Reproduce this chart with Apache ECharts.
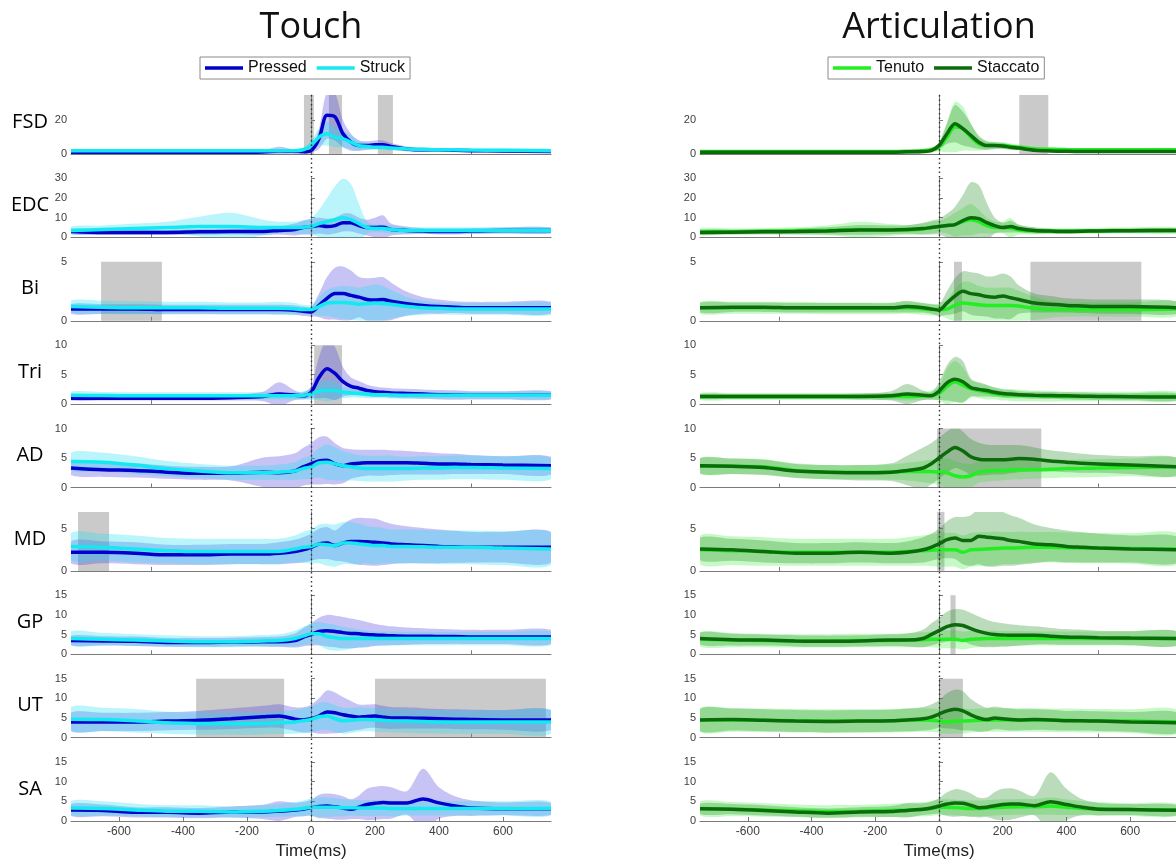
<!DOCTYPE html>
<html><head><meta charset="utf-8">
<script src="https://cdn.jsdelivr.net/npm/echarts@6/dist/echarts.min.js"></script>
<style>html,body{margin:0;padding:0;background:#fff}#c{width:1176px;height:861px}</style>
</head><body><div id="c"></div>
<script>
// ---- time base (ms) ----
const times = [-750,-650,-550,-450,-350,-250,-150,-100,-50,-25,0,25,50,75,100,125,150,175,200,225,250,300,350,400,450,500,600,750];
const muscles = ['FSD','EDC','Bi','Tri','AD','MD','GP','UT','SA'];
const yMax = [35,30,5,10,10,7,15,15,15];
const yTicks = [[0,20],[0,10,20,30],[0,5],[0,5,10],[0,5,10],[0,5],[0,5,10,15],[0,5,10,15],[0,5,10,15]];
const xTickLabels = [-600,-400,-200,0,200,400,600];
const xTicksUpper = [-500,0,500];
const onsetTime = 0;

// ---- Touch: Pressed ----
const pressed_FSD = [1,1,1,1,1,1,1.2, 1.8,1.5,1.3,2,9,23,22, 12,7,5,5,5.5,5.5,4.5, 3,2.5,2.5,2.2,2,1.8,1.5];
const pressed_FSD_sd = [0.6,0.6,0.6,0.6,0.6,0.6,1, 2.5,1,0.8,1.2,6,14,14, 8,5,3,2.5,2.5,2.5,2, 1.5,1.2,1,1,1,0.8,0.8];
const pressed_EDC = [3,2.5,2.5,2.5,2.8,3,3, 3.5,4,5,5.5,6,5.5,6, 7.5,7.5,6,5,5,5.2,4, 3.5,3.2,3,3,3.2,3.5,3.5];
const pressed_EDC_sd = [1.3,1.3,1.3,1.3,1.5,1.5,1.8, 2,3,3.5,4,4,4,4, 4.5,4.5,4,4,5,6,3, 2,1.5,1.5,1.5,1.5,1.5,1.5];
const pressed_Bi = [1,1,1,0.95,0.95,0.95,0.95, 0.95,0.9,0.8,0.75,1.3,1.9,2.3, 2.3,2.15,2,1.8,1.75,1.8,1.65, 1.45,1.3,1.2,1.15,1.1,1.1,1.1];
const pressed_Bi_sd = [0.4,0.4,0.4,0.4,0.4,0.4,0.4, 0.4,0.4,0.4,0.4,1,1.8,2.2, 2.3,2.1,1.7,1.8,1.9,1.9,1.6, 1,0.7,0.6,0.5,0.5,0.5,0.5];
const pressed_Tri = [1,1,1,1,1,1.1,1.3, 1.7,1.5,1.4,2,4.5,6,5.2, 3.8,3,2.7,2.3,2.1,2,1.9, 1.8,1.7,1.6,1.55,1.5,1.5,1.5];
const pressed_Tri_sd = [0.4,0.4,0.4,0.4,0.4,0.5,0.8, 2,0.8,0.6,1,3.5,5,4.5, 2.5,1.5,1.2,1,0.9,0.8,0.8, 0.8,0.8,0.8,0.8,0.7,0.7,0.7];
const pressed_AD = [3.3,3,2.9,2.6,2.4,2.4,2.6, 2.5,2.8,3.5,4,4.5,4.6,4, 3.7,4,4.1,4.2,4.2,4.2,4.2, 4.2,4.1,4,4,3.9,3.8,3.7];
const pressed_AD_sd = [1.2,1.2,1.2,1.1,1.1,1.2,2.5, 2.8,3,3.2,3.5,4,4,3.5, 3,2.5,2.3,2.2,2.2,2.2,2.1, 2,1.9,1.8,1.7,1.6,1.5,1.5];
const pressed_MD = [2.2,2.2,2.1,1.9,1.9,2,2, 2.1,2.3,2.5,2.8,3.2,3.3,3, 3.3,3.5,3.5,3.45,3.4,3.3,3.2, 3.1,3,2.9,2.85,2.8,2.8,2.8];
const pressed_MD_sd = [1.3,1.3,1.3,1.2,1.2,1.2,1.2, 1.3,1.4,1.5,1.6,1.8,1.9,1.8, 2.2,2.6,2.8,2.8,2.8,2.6,2.4, 2.2,2.1,2,1.9,1.8,1.8,1.8];
const pressed_GP = [3.5,3.4,3.3,3,3,3.1,3.2, 3.2,3.5,4.3,5,5.8,6,5.8, 5.5,5.3,5.2,5,4.9,4.8,4.7, 4.6,4.6,4.5,4.5,4.4,4.4,4.4];
const pressed_GP_sd = [1.2,1.2,1.2,1.1,1.1,1.1,1.2, 1.3,1.8,2.3,2.8,3.5,4,4, 4,3.8,3.5,3.2,2.8,2.6,2.4, 2.2,2,1.9,1.8,1.8,1.8,1.8];
const pressed_UT = [4,4,4,4.2,4.4,4.8,5.3, 5.5,4.7,4.5,4.8,5.5,6.5,6.3, 5.8,5.5,5.2,5.4,5.5,5.2,5, 5,4.9,4.8,4.7,4.6,4.5,4.5];
const pressed_UT_sd = [2.3,2.3,2.3,2.3,2.4,2.6,2.8, 3,3,3.2,3.5,4.5,5.5,5.2, 4.5,3.8,3.2,3,3,2.9,2.8, 2.7,2.6,2.5,2.5,2.5,2.5,2.5];
const pressed_SA = [2.8,2.7,2.2,2.2,2,2.3,2.3, 2.5,2.8,3,3.4,3.7,3.8,3.6, 3.3,3,3.5,4.2,4.5,4.7,4.6, 4.6,5.6,4.6,3.8,3.3,3.1,3.1];
const pressed_SA_sd = [1.5,1.5,1.3,1.3,1.3,1.4,1.8, 2.5,1.8,1.8,2,3,3.2,3.2, 3,2.5,3,4,4.2,4.2,4, 3,7.7,4,2.5,2,1.6,1.5];

// ---- Touch: Struck ----
const struck_FSD = [2,2,2,2,2,2,2, 2,2,2.5,5,10,12,10, 9,7,5,4.5,4,4,3.5, 3,2.8,2.5,2.5,2.3,2.2,2];
const struck_FSD_sd = [0.8,0.8,0.8,0.8,0.8,0.8,0.8, 0.8,0.8,1,3,5,7,6, 5,4,3,2,1.5,1.5,1.3, 1,1,1,1,1,1,1];
const struck_EDC = [3.5,4,4.5,5,5.5,5.5,5, 5,5,5.2,5.5,7,8,9, 10,9,7,5,4.5,4.5,4, 3.5,3.5,3.5,3.5,3.5,3.5,3.5];
const struck_EDC_sd = [2,2,2.5,3,5,7,4, 3,3,3.5,4,7,12,17, 20,18,10,3,2,2,2, 1.5,1.5,1.5,1.5,1.5,1.5,1.5];
const struck_Bi = [1.2,1.15,1.1,1.1,1.1,1.05,1.05, 1.05,1,0.95,0.95,1.2,1.5,1.55, 1.55,1.5,1.4,1.45,1.5,1.45,1.4, 1.2,1.1,1.05,1,1,1,1];
const struck_Bi_sd = [0.5,0.55,0.55,0.5,0.5,0.5,0.5, 0.55,0.5,0.4,0.4,0.8,1.1,1.3, 1.4,1.4,1.4,1.5,1.6,1.5,1.2, 0.8,0.6,0.5,0.5,0.5,0.5,0.5];
const struck_Tri = [1.5,1.45,1.4,1.4,1.4,1.4,1.4, 1.4,1.4,1.5,1.7,2.2,2.3,2.3, 2,1.9,1.8,1.7,1.6,1.6,1.55, 1.5,1.5,1.5,1.5,1.5,1.5,1.5];
const struck_Tri_sd = [0.6,0.6,0.6,0.6,0.6,0.6,0.6, 0.6,0.6,0.7,1,1.5,1.8,1.6, 1,0.8,0.7,0.7,0.6,0.6,0.6, 0.6,0.6,0.6,0.6,0.6,0.6,0.6];
const struck_AD = [4.4,4.3,3.8,3.2,2.8,2.5,2.5, 2.6,2.8,3.2,3.5,4.2,4.3,4, 3.7,3.5,3.3,3.2,3.2,3.2,3.2, 3.2,3.3,3.3,3.4,3.4,3.3,3.2];
const struck_AD_sd = [1.5,1.6,1.5,1.3,1.2,1.2,1.2, 1.3,1.5,1.8,2,2.5,3,2.8, 2.5,2.3,2.2,2.2,2.2,2.2,2.2, 2,2,2,2,2,2,1.8];
const struck_MD = [2.9,2.8,2.6,2.4,2.3,2.3,2.3, 2.3,2.6,2.8,2.9,3.2,3.1,3, 3.3,3.3,3.2,3.1,3,3,2.9, 2.9,2.85,2.8,2.8,2.8,2.7,2.6];
const struck_MD_sd = [1.6,1.6,1.6,1.5,1.5,1.5,1.5, 1.5,1.6,1.8,2,2.3,2.5,2.5, 2.5,2.5,2.4,2.2,2.2,2.1,2, 2,2,2,2,2,2,1.9];
const struck_GP = [4,3.8,3.6,3.4,3.2,3.2,3.4, 3.5,4,4.6,5.2,5.2,4.5,4.2, 4,4,4,4,4,4,4, 4,4,4,4,4,4,4];
const struck_GP_sd = [1.8,1.6,1.5,1.4,1.4,1.4,1.5, 1.6,2,2.3,2.6,3,3.3,3.3, 3,2.6,2.3,2,1.8,1.8,1.8, 1.7,1.7,1.7,1.7,1.7,1.7,1.7];
const struck_UT = [4.7,4.6,4.3,3.8,3.6,3.5,3.6, 3.8,4,4.3,4.6,5.3,5.5,4.8, 4.3,4.4,4.6,4.6,4.5,4.4,4.3, 4.2,4.1,4,4,4,4,4];
const struck_UT_sd = [3,3,3,2.8,2.8,2.8,2.8, 2.9,3,3.2,3.3,3.5,3.5,3.4, 3.3,3.2,3.1,3,3,3,3, 3,3,3,3,3,3,3];
const struck_SA = [3.3,3.2,2.8,2.5,2.5,2.3,2.5, 2.7,3,3.2,3.5,3.5,3.5,3.5, 3.4,3.4,3.3,3.3,3.3,3.3,3.2, 3.2,3.2,3.2,3.2,3.2,3.2,3.2];
const struck_SA_sd = [1.8,1.8,1.6,1.5,1.5,1.4,1.5, 1.6,1.8,2,2.2,2.5,2.5,2.3, 2.2,2,2,2,2,2,2, 1.8,1.8,1.8,1.8,1.8,1.8,1.8];

// ---- Articulation: Tenuto ----
const tenuto_FSD = [1.5,1.5,1.5,1.5,1.5,1.5,1.5, 1.5,2,2.5,4,10,16,15, 10,6,5,5,5,4.5,4, 3,2.8,2.6,2.5,2.5,2.5,2.5];
const tenuto_FSD_sd = [0.7,0.7,0.7,0.7,0.7,0.7,0.7, 0.8,1,1.5,2.5,9,15,13, 8,4,2.5,2,2,1.8,1.6, 1.3,1.2,1,1,1,1,1];
const tenuto_EDC = [3,3,3.2,3.4,3.6,4,3.8, 3.8,4.3,5,5.5,6,6.5,8, 9,8,6,5,5,4.8,3.8, 3.3,3.2,3.2,3.3,3.4,3.5,3.5];
const tenuto_EDC_sd = [1.5,1.5,1.5,1.8,2.5,4,3, 2.5,2.8,3,3,4,6,7, 8,6,4,3,3,5,2.5, 1.8,1.5,1.5,1.5,1.5,1.5,1.5];
const tenuto_Bi = [1.1,1.1,1.1,1.1,1.05,1.05,1.05, 1.1,1,0.95,0.95,1,1.3,1.5, 1.45,1.35,1.3,1.3,1.3,1.3,1.25, 1.05,0.95,0.95,0.95,0.95,0.95,1];
const tenuto_Bi_sd = [0.5,0.5,0.5,0.5,0.5,0.5,0.5, 0.5,0.5,0.5,0.5,0.8,1.4,1.8, 1.8,1.6,1.5,1.5,1.5,1.5,1.3, 1,0.7,0.6,0.6,0.6,0.6,0.6];
const tenuto_Tri = [1.3,1.3,1.3,1.3,1.3,1.3,1.3, 1.3,1.4,1.5,1.8,3,3.8,3.2, 2.6,2.3,2,1.8,1.6,1.55,1.5, 1.4,1.35,1.3,1.3,1.3,1.3,1.3];
const tenuto_Tri_sd = [0.6,0.6,0.6,0.6,0.6,0.6,0.6, 0.7,0.7,0.8,1.2,3,3.5,3, 1.5,1.3,1.2,1,1,1,1, 0.9,0.9,0.8,0.8,0.8,0.8,0.8];
const tenuto_AD = [3.6,3.6,3.5,2.9,2.6,2.6,2.6, 2.7,2.7,2.7,2.6,2.5,2,1.8, 2,2.6,2.8,2.85,2.9,2.95,3, 3,3.1,3.2,3.25,3.3,3.4,3.5];
const tenuto_AD_sd = [1.3,1.3,1.3,1.2,1.2,1.2,1.3, 1.5,1.8,2,2.2,2.5,2.5,2.3, 2,1.8,1.8,1.7,1.7,1.6,1.6, 1.5,1.5,1.5,1.5,1.5,1.5,1.5];
const tenuto_MD = [2.5,2.4,2.3,2.2,2.2,2.2,2.2, 2.3,2.4,2.45,2.5,2.5,2.5,2.2, 2.5,2.55,2.6,2.65,2.7,2.7,2.75, 2.8,2.8,2.75,2.7,2.7,2.65,2.6];
const tenuto_MD_sd = [1.7,1.7,1.7,1.6,1.6,1.6,1.6, 1.7,1.8,1.9,2,2,2,2, 2,2,2,2,1.9,1.9,1.9, 1.8,1.8,1.8,1.8,1.8,1.8,1.8];
const tenuto_GP = [3.8,3.6,3.5,3.4,3.4,3.5,3.5, 3.6,3.7,3.8,3.8,3.8,3.8,3.5, 3.8,3.9,4,4,4,4,4, 4,4,4,4,4,4,4];
const tenuto_GP_sd = [1.8,1.8,1.7,1.7,1.7,1.7,1.7, 1.8,1.9,2,2.2,2.3,2.3,2.3, 2.2,2.1,2,2,1.9,1.9,1.9, 1.8,1.8,1.8,1.8,1.8,1.8,1.8];
const tenuto_UT = [4.5,4.5,4.4,4.3,4.2,4.2,4.3, 4.4,4.5,4.4,4.2,4,4.2,4.2, 4.3,4.4,4.5,4.5,4.5,4.5,4.5, 4.5,4.4,4.4,4.3,4.3,4.2,4];
const tenuto_UT_sd = [3,3,3,3,3,3,3, 3,3,3,3,3,3.2,3.2, 3,3,3,3,3,3,3, 3,3,3,3,3,3,3];
const tenuto_SA = [3.2,3,2.8,2.6,2.4,2.5,2.7, 2.8,3,3.2,3.5,3.5,3.4,3.3, 3.2,3.2,3.3,3.4,3.5,3.55,3.6, 3.6,3.8,3.5,3.2,3.1,2.9,2.8];
const tenuto_SA_sd = [1.8,1.8,1.7,1.6,1.6,1.6,1.7, 1.8,1.8,1.9,2,2,2,2, 2,2,2,2,2,2,2, 2,2.2,2,1.8,1.7,1.6,1.5];

// ---- Articulation: Staccato ----
const staccato_FSD = [1,1,1,1,1,1,1.1, 1.3,1.5,2,5,12,18,15, 11,7,5,5,4.8,4,3.5, 2.2,1.8,1.6,1.5,1.5,1.5,1.5];
const staccato_FSD_sd = [0.5,0.5,0.5,0.5,0.5,0.5,0.8, 1.5,1,1,2,6,11,10, 7,4,2.5,2,1.8,1.5,1.2, 0.8,0.7,0.6,0.6,0.6,0.6,0.6];
const staccato_EDC = [2.5,2.6,2.8,3,3.3,3.8,3.8, 4,4.5,5,5.5,6,6.5,8.5, 10,9.5,7.5,6,5,5.5,4.5, 3.5,3.2,3,3.1,3.3,3.4,3.5];
const staccato_EDC_sd = [1.2,1.2,1.3,1.5,1.8,2.5,2.2, 2.2,3,3.5,4,6,9,13, 18,17,10,4,2.5,3,2, 1.5,1.2,1,1,1,1,1];
const staccato_Bi = [1.1,1.15,1.15,1.1,1.1,1.1,1.1, 1.2,1.1,1,0.9,1.5,2.1,2.5, 2.3,2.2,2.05,2,2.1,1.95,1.8, 1.5,1.4,1.3,1.25,1.2,1.2,1.1];
const staccato_Bi_sd = [0.4,0.4,0.4,0.4,0.4,0.4,0.4, 0.5,0.4,0.4,0.5,1,1.5,1.7, 1.8,1.8,1.7,1.8,1.9,1.8,1.2, 0.8,0.7,0.6,0.6,0.6,0.6,0.5];
const staccato_Tri = [1.3,1.3,1.3,1.3,1.3,1.3,1.4, 1.7,1.5,1.4,2.2,3.6,4.2,3.8, 2.8,2.5,2.3,2,1.8,1.7,1.6, 1.5,1.45,1.4,1.35,1.3,1.25,1.2];
const staccato_Tri_sd = [0.4,0.4,0.4,0.4,0.4,0.5,0.8, 1.7,0.8,0.6,1.5,3,3.8,3.5, 1.5,1.2,1,0.8,0.7,0.7,0.6, 0.6,0.6,0.6,0.6,0.6,0.6,0.6];
const staccato_AD = [3.7,3.6,3.4,2.8,2.6,2.5,2.6, 2.9,3.3,4,5,6,6.8,6.2, 5.2,4.8,4.7,4.7,4.7,4.8,4.9, 4.8,4.5,4.3,4.1,4,3.8,3.5];
const staccato_AD_sd = [1.3,1.3,1.3,1.2,1.2,1.3,1.5, 2.5,3.5,3.5,3.5,3.5,3.5,3.3, 3,2.8,2.6,2.5,2.5,2.4,2.3, 2,1.8,1.7,1.6,1.5,1.5,1.5];
const staccato_MD = [2.6,2.5,2.3,2.1,2.1,2.2,2.1, 2.2,2.5,2.8,3.2,3.7,3.9,3.6, 3.6,4.1,4,3.9,3.8,3.6,3.5, 3.2,3.1,2.9,2.8,2.7,2.6,2.5];
const staccato_MD_sd = [1.3,1.3,1.3,1.2,1.2,1.2,1.2, 1.3,1.5,1.6,1.8,2.2,2.5,2.8, 3,3.3,3.5,3.4,3.2,3,2.8, 2.3,2,1.9,1.8,1.7,1.6,1.5];
const staccato_GP = [4,3.7,3.6,3.4,3.3,3.4,3.6, 3.6,4,5,6,7,7.5,7.3, 6.5,5.8,5.3,5,4.9,4.8,4.8, 4.8,4.6,4.4,4.3,4.2,4.1,4];
const staccato_GP_sd = [1.5,1.5,1.4,1.4,1.4,1.4,1.5, 1.6,2.2,2.8,3.2,3.8,4,4, 4,3.8,3.5,3.2,3,2.8,2.6, 2.3,2.1,2,1.9,1.8,1.8,1.8];
const staccato_UT = [4.5,4.6,4.4,4.2,4.1,4.2,4.3, 4.5,4.8,5.2,6,6.8,7.2,6.8, 5.8,5,4.6,5,4.8,4.6,4.5, 4.6,4.5,4.3,4.3,4.2,4,3.8];
const staccato_UT_sd = [2.8,2.8,2.8,2.8,2.8,2.8,2.8, 2.9,3,3.2,3.5,4.5,5,5, 4,3.5,3,2.9,2.8,2.8,2.7, 2.6,2.6,2.5,2.5,2.5,2.5,2.5];
const staccato_SA = [3.1,3,2.7,2.3,2,2.3,2.4, 2.7,3,3.3,3.8,4.3,4.6,4.5, 4,3.4,3.5,3.9,4.2,4.3,4.3, 3.9,4.9,4.2,3.5,3,2.9,2.7];
const staccato_SA_sd = [1.3,1.3,1.3,1.2,1.2,1.2,1.4, 1.8,1.5,1.6,2,3,3.5,3.3, 3,2.5,2.5,3.5,4,4,3.5, 2.5,7.5,4,2,1.6,1.4,1.3];

// ---- significance windows (ms) ----
const touchSig = [[[-22,9],[56,97],[209,256]], [], [[-656,-466]], [[10,97]], [], [[-728,-631]], [], [[-359,-84],[200,734]], []];
const artSig = [[[252,343]], [], [[47,72],[287,635]], [], [[-6,321]], [[-6,17]], [[36,52]], [[3,75]], []];

// ---- assemble ----
const pressedMean = [pressed_FSD,pressed_EDC,pressed_Bi,pressed_Tri,pressed_AD,pressed_MD,pressed_GP,pressed_UT,pressed_SA];
const pressedSd = [pressed_FSD_sd,pressed_EDC_sd,pressed_Bi_sd,pressed_Tri_sd,pressed_AD_sd,pressed_MD_sd,pressed_GP_sd,pressed_UT_sd,pressed_SA_sd];
const struckMean = [struck_FSD,struck_EDC,struck_Bi,struck_Tri,struck_AD,struck_MD,struck_GP,struck_UT,struck_SA];
const struckSd = [struck_FSD_sd,struck_EDC_sd,struck_Bi_sd,struck_Tri_sd,struck_AD_sd,struck_MD_sd,struck_GP_sd,struck_UT_sd,struck_SA_sd];
const tenutoMean = [tenuto_FSD,tenuto_EDC,tenuto_Bi,tenuto_Tri,tenuto_AD,tenuto_MD,tenuto_GP,tenuto_UT,tenuto_SA];
const tenutoSd = [tenuto_FSD_sd,tenuto_EDC_sd,tenuto_Bi_sd,tenuto_Tri_sd,tenuto_AD_sd,tenuto_MD_sd,tenuto_GP_sd,tenuto_UT_sd,tenuto_SA_sd];
const staccatoMean = [staccato_FSD,staccato_EDC,staccato_Bi,staccato_Tri,staccato_AD,staccato_MD,staccato_GP,staccato_UT,staccato_SA];
const staccatoSd = [staccato_FSD_sd,staccato_EDC_sd,staccato_Bi_sd,staccato_Tri_sd,staccato_AD_sd,staccato_MD_sd,staccato_GP_sd,staccato_UT_sd,staccato_SA_sd];

const cols = [
  {left:71, width:480, title:'Touch', legendLeft:200, sig:touchSig, groups:[
    {name:'Pressed', mean:pressedMean, sd:pressedSd, line:'#0000cd', band:'rgba(72,55,222,0.30)'},
    {name:'Struck', mean:struckMean, sd:struckSd, line:'#14e8f0', band:'rgba(22,222,238,0.30)'}]},
  {left:700, width:478, title:'Articulation', legendLeft:828, sig:artSig, groups:[
    {name:'Tenuto', mean:tenutoMean, sd:tenutoSd, line:'#22ee22', band:'rgba(30,230,30,0.25)'},
    {name:'Staccato', mean:staccatoMean, sd:staccatoSd, line:'#0b6b0b', band:'rgba(30,140,30,0.30)'}]}
];

const top0 = 95, rowStep = 83.375, gridH = 59;
const axisColor = '#7a7a7a', labelColor = '#404040', FONT = 'Liberation Sans';
const SMOOTH = 0.3;

const grids = [], xAxes = [], yAxes = [], series = [], graphics = [];

function bandSeries(gi, mean, sd, color) {
  const data = times.map((t, i) => [t, mean[i] - sd[i], mean[i] + sd[i]]);
  return {
    type: 'custom', name: 'band', xAxisIndex: gi, yAxisIndex: gi, silent: true, z: 1, clip: true,
    encode: {x: 0, y: [1, 2]}, data: data,
    renderItem: function (params, api) {
      if (params.dataIndex !== 0) return null;
      const up = data.map(d => api.coord([d[0], d[2]]));
      const dn = data.map(d => api.coord([d[0], d[1]])).reverse();
      const cs = params.coordSys;
      return {
        type: 'group',
        clipPath: {type: 'rect', shape: {x: cs.x, y: cs.y, width: cs.width, height: cs.height}},
        children: [{type: 'polygon', shape: {points: up.concat(dn), smooth: SMOOTH}, style: {fill: color}}]
      };
    }
  };
}

cols.forEach((col, c) => {
  muscles.forEach((m, r) => {
    const gi = grids.length;
    const bottom = r === muscles.length - 1;
    grids.push({left: col.left, width: col.width, top: top0 + r * rowStep, height: gridH, outerBoundsMode: 'none'});
    xAxes.push({
      gridIndex: gi, type: 'value', min: -750, max: 750,
      axisLine: {show: true, onZero: false, lineStyle: {color: axisColor, width: 1}},
      axisTick: {show: true, inside: true, length: 4, customValues: bottom ? xTickLabels : xTicksUpper, lineStyle: {color: axisColor}},
      axisLabel: {show: bottom, customValues: xTickLabels, fontSize: 12, color: labelColor, fontFamily: FONT, margin: 5},
      splitLine: {show: false},
      name: bottom ? 'Time(ms)' : '', nameLocation: 'middle', nameGap: 22,
      nameTextStyle: {fontSize: 17, color: '#222', fontFamily: FONT}
    });
    yAxes.push({
      gridIndex: gi, type: 'value', min: 0, max: yMax[r],
      axisLine: {show: true, lineStyle: {color: axisColor, width: 1}},
      axisTick: {show: true, inside: true, length: 4, customValues: yTicks[r], lineStyle: {color: axisColor}},
      axisLabel: {customValues: yTicks[r], fontSize: 11, color: labelColor, fontFamily: FONT, margin: 4},
      splitLine: {show: false}
    });
    col.groups.forEach((g) => series.push(bandSeries(gi, g.mean[r], g.sd[r], g.band)));
    // significance rectangles
    series.push({
      type: 'line', name: 'sig', xAxisIndex: gi, yAxisIndex: gi,
      data: times.map((t, i) => [t, col.groups[0].mean[r][i]]), symbol: 'none',
      lineStyle: {opacity: 0}, silent: true, z: 2,
      markArea: {silent: true, itemStyle: {color: 'rgba(128,128,128,0.42)'},
        data: col.sig[r].map(w => [{xAxis: w[0]}, {xAxis: w[1]}])}
    });
    // mean lines
    col.groups.forEach((g) => {
      series.push({
        type: 'line', name: g.name, xAxisIndex: gi, yAxisIndex: gi,
        data: times.map((t, i) => [t, g.mean[r][i]]), symbol: 'none', smooth: SMOOTH,
        lineStyle: {width: 3.5, color: g.line}, itemStyle: {color: g.line}, silent: true, z: 3
      });
    });
    if (c === 0) {
      graphics.push({type: 'text', x: 30, y: top0 + r * rowStep + 27,
        style: {text: m, align: 'center', verticalAlign: 'middle', fontSize: 20, fontFamily: 'Open Sans', fill: '#000'}});
    }
  });
});

// onset reference lines (overlay grids spanning all rows)
cols.forEach((col) => {
  const gi = grids.length;
  grids.push({left: col.left, width: col.width, top: top0, height: 8 * rowStep + gridH, outerBoundsMode: 'none'});
  xAxes.push({gridIndex: gi, type: 'value', min: -750, max: 750, show: false});
  yAxes.push({gridIndex: gi, type: 'value', min: 0, max: 1, show: false});
  series.push({
    type: 'line', name: 'onset', xAxisIndex: gi, yAxisIndex: gi, data: [[onsetTime, 0]], symbol: 'none',
    lineStyle: {opacity: 0}, silent: true, z: 4,
    markLine: {silent: true, symbol: 'none', label: {show: false}, animation: false,
      lineStyle: {type: [1.5, 3], color: '#333', width: 1.4}, data: [{xAxis: onsetTime}]}
  });
  graphics.push({type: 'text', x: col.left + col.width / 2, y: 28,
    style: {text: col.title, align: 'center', verticalAlign: 'middle', fontSize: 36, fontFamily: 'Open Sans', fill: '#111'}});
});

const legends = cols.map(col => ({
  data: col.groups.map(g => g.name), left: col.legendLeft, top: 57, orient: 'horizontal',
  icon: 'rect', itemWidth: 38, itemHeight: 3.5, itemGap: 10, selectedMode: false,
  textStyle: {fontSize: 16, fontFamily: FONT, color: '#111'},
  borderColor: '#8a8a8a', borderWidth: 1, backgroundColor: '#fff', padding: [3, 5]
}));

const chart = echarts.init(document.getElementById('c'));
chart.setOption({
  animation: false,
  backgroundColor: '#fff',
  grid: grids, xAxis: xAxes, yAxis: yAxes, series: series,
  legend: legends, graphic: graphics
});
</script></body></html>
